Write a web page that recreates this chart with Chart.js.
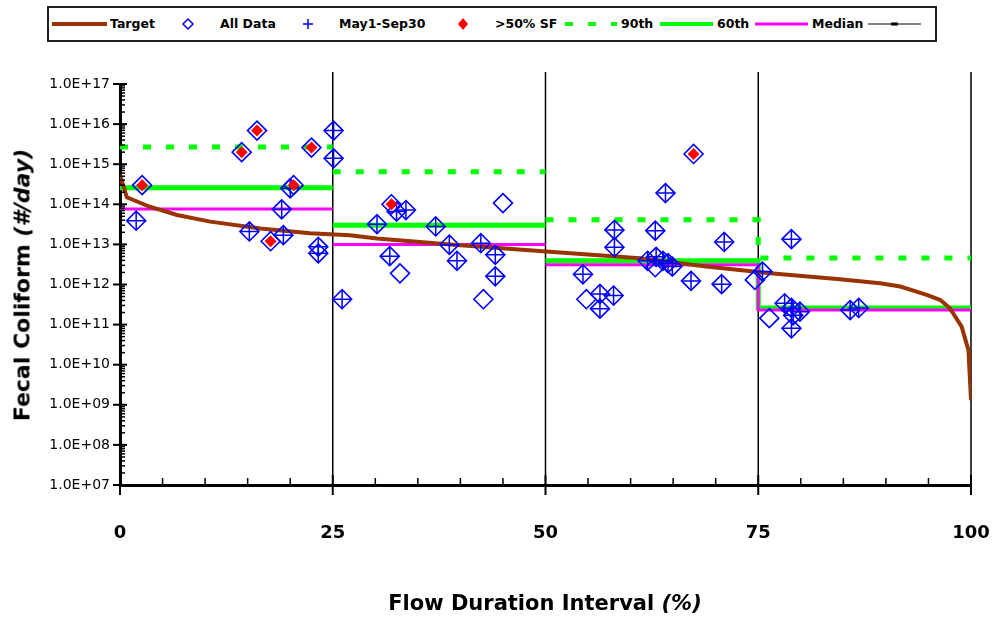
<!DOCTYPE html>
<html>
<head>
<meta charset="utf-8">
<script src="https://cdn.jsdelivr.net/npm/chart.js@4/dist/chart.umd.min.js"></script>
<style>
html,body{margin:0;padding:0;background:#fff}
#wrap{position:relative;width:995px;height:617px;font-family:"DejaVu Sans",sans-serif;color:#000}
#c{position:absolute;left:0;top:0}
#lgsvg{position:absolute;left:0;top:0}
.lt{position:absolute;top:16px;line-height:16px;font-size:12.5px;font-weight:bold;white-space:nowrap}
.ytitle{position:absolute;left:22px;top:285px;transform:translate(-50%,-50%) rotate(-90deg);white-space:nowrap;font-size:22px;font-weight:bold}
.xtitle{position:absolute;left:545px;top:603px;transform:translate(-50%,-50%);white-space:nowrap;font-size:21px;font-weight:bold}
</style>
</head>
<body>
<div id="wrap">
  <canvas id="c" width="995" height="617"></canvas>
  <svg id="lgsvg" width="995" height="48">
    <rect x="48" y="7" width="888" height="34" fill="#fff" stroke="#222" stroke-width="2"/>
    <line x1="52" x2="107" y1="24" y2="24" stroke="#993300" stroke-width="4"/>
    <path d="M188 19 L193 24 L188 29 L183 24 Z" fill="none" stroke="#0000ff" stroke-width="1.5"/>
    <path d="M308 19 V29 M303 24 H313" stroke="#0000ff" stroke-width="1.5"/>
    <path d="M463 18 L468 24 L463 30 L458 24 Z" fill="#ff0000"/>
    <line x1="565" x2="617" y1="24" y2="24" stroke="#00ff00" stroke-width="4" stroke-dasharray="8 15"/>
    <line x1="660" x2="713" y1="24" y2="24" stroke="#00ff00" stroke-width="4"/>
    <line x1="755" x2="808" y1="24" y2="24" stroke="#ff00ff" stroke-width="3"/>
    <line x1="868" x2="921" y1="24" y2="24" stroke="#000" stroke-width="1"/>
    <line x1="891" x2="898" y1="24" y2="24" stroke="#000" stroke-width="3"/>
  </svg>
  <span class="lt" style="left:110px">Target</span>
  <span class="lt" style="left:220px">All Data</span>
  <span class="lt" style="left:339px">May1-Sep30</span>
  <span class="lt" style="left:495px">&gt;50% SF</span>
  <span class="lt" style="left:621px">90th</span>
  <span class="lt" style="left:717px">60th</span>
  <span class="lt" style="left:812px">Median</span>
  <div class="ytitle">Fecal Coliform <i>(#/day)</i></div>
  <div class="xtitle">Flow Duration Interval <i>(%)</i></div>
</div>
<script>
// load duration curve
const targetX=[0,0.8,3.5,6.7,10.6,16.5,22.3,27,30.2,39.2,50.5,61.1,68.9,76.4,84.6,89.3,91.7,94.8,96.4,97.5,98.9,99.7,100]
const targetY=[5.4e14,1.5e14,8.7e13,5.4e13,3.7e13,2.5e13,1.9e13,1.7e13,1.4e13,9.8e12,6.6e12,4.5e12,2.8e12,1.9e12,1.35e12,1.07e12,8.9e11,5.5e11,4.1e11,2.6e11,8.9e10,2.3e10,1.3e9]

// observed samples
const allX=[2.6,1.9,14.3,16.1,15.2,17.7,19.0,19.2,20.0,20.4,22.5,23.3,23.3,25.1,25.1,26.1,
  31.9,32.5,33.6,30.2,37.1,31.7,32.9,38.7,39.6,42.4,44.1,44.1,42.7,45.0,
  67.4,64.1,58.1,58.1,62.9,71.0,54.4,54.8,56.4,56.4,58.0,62.0,63.0,62.9,63.8,64.4,64.9,67.1,70.7,74.6,75.5,
  78.9,76.3,78.1,78.9,79.9,79.1,78.9,85.8,86.8]
const allY=[3.0e14,3.9e13,2.0e15,6.9e15,2.1e13,1.2e13,7.5e13,1.7e13,2.5e14,3.0e14,2.6e15,8.7e12,6.0e12,6.9e15,1.4e15,4.3e11,
  1.0e14,6.6e13,7.2e13,3.2e13,2.8e13,5.1e12,1.9e12,9.8e12,3.9e12,1.07e13,5.5e12,1.6e12,4.3e11,1.07e14,
  1.8e15,1.9e14,2.3e13,8.5e12,2.2e13,1.15e13,1.8e12,4.3e11,5.8e11,2.5e11,5.3e11,3.9e12,4.9e12,2.7e12,3.9e12,3.4e12,2.8e12,1.23e12,1.02e12,1.3e12,2.1e12,
  1.35e13,1.45e11,3.4e11,2.6e11,2.1e11,1.7e11,8.1e10,2.3e11,2.6e11]
const summerX=[1.9,15.2,19.0,19.2,20.0,23.3,23.3,25.1,25.1,26.1,
  32.5,33.6,30.2,37.1,31.7,38.7,39.6,42.4,44.1,44.1,
  64.1,58.1,58.1,62.9,71.0,54.4,56.4,56.4,58.0,62.0,63.0,63.8,64.4,64.9,67.1,70.7,75.5,
  78.9,78.1,78.9,79.9,79.1,78.9,85.8,86.8]
const summerY=[3.9e13,2.1e13,7.5e13,1.7e13,2.5e14,8.7e12,6.0e12,6.9e15,1.4e15,4.3e11,
  6.6e13,7.2e13,3.2e13,2.8e13,5.1e12,9.8e12,3.9e12,1.07e13,5.5e12,1.6e12,
  1.9e14,2.3e13,8.5e12,2.2e13,1.15e13,1.8e12,5.8e11,2.5e11,5.3e11,3.9e12,4.9e12,3.9e12,3.4e12,2.8e12,1.23e12,1.02e12,2.1e12,
  1.35e13,3.4e11,2.6e11,2.1e11,1.7e11,8.1e10,2.3e11,2.6e11]
const sfX=[2.6,14.3,16.1,17.7,20.4,22.5,31.9,67.4]
const sfY=[3.0e14,2.0e15,6.9e15,1.2e13,3.0e14,2.6e15,1.0e14,1.8e15]

// per flow zone statistics
const zoneEdges=[0,25,50,75,100]
const pct90=[2.7e15,6.5e14,4.1e13,4.6e12]
const pct60=[2.6e14,3.0e13,3.9e12,2.6e11]
const median=[7.6e13,1.0e13,3.1e12,2.3e11]
const dividerX=[25,50,75,100]

const xTicks=[0,25,50,75,100]
const yTickExp=[7,8,9,10,11,12,13,14,15,16,17]

const pts=(xs,ys)=>xs.map((x,i)=>({x,y:ys[i]}))
// zone lines: break at 25 and 50, stepped join at 75
function zoneLine(vals){
  const out=[]
  vals.forEach((v,i)=>{
    out.push({x:zoneEdges[i],y:v},{x:zoneEdges[i+1],y:v})
    if(i<2) out.push({x:zoneEdges[i+1],y:null})
  })
  return out
}
const dividers=[]
dividerX.forEach(x=>{dividers.push({x,y:1e7},{x,y:2e17},{x,y:null})})

const FONT='"DejaVu Sans", sans-serif'
const lineDs={type:'scatter',showLine:true,pointRadius:0,fill:false,tension:0,spanGaps:false}

const tickMarks={
  id:'tickMarks',
  afterDraw(chart){
    const {ctx,scales:{x,y},chartArea:a}=chart
    const seg=(x1,y1,x2,y2,w)=>{ctx.lineWidth=w;ctx.beginPath();ctx.moveTo(x1,y1);ctx.lineTo(x2,y2);ctx.stroke()}
    ctx.save()
    ctx.strokeStyle='#000'
    yTickExp.forEach(e=>{
      const py=y.getPixelForValue(Math.pow(10,e))
      seg(a.left-7,py,a.left+7,py,2)
      if(e<17) for(let m=2;m<=9;m++){
        const p=y.getPixelForValue(m*Math.pow(10,e))
        seg(a.left,p,a.left+5,p,1.5)
      }
    })
    for(let v=0;v<=100;v+=5){
      const px=x.getPixelForValue(v)
      if(v%25===0) seg(px,a.bottom-10,px,a.bottom+10,2)
      else seg(px,a.bottom-7,px,a.bottom,1.5)
    }
    ctx.restore()
  }
}

new Chart(document.getElementById('c'),{
  type:'scatter',
  data:{datasets:[
    {label:'>50% SF',data:pts(sfX,sfY),pointStyle:'rectRot',pointRadius:6,pointBackgroundColor:'#ff0000',pointBorderColor:'#ff0000',pointBorderWidth:0,order:0},
    {label:'May1-Sep30',data:pts(summerX,summerY),pointStyle:'cross',pointRadius:9,pointBorderColor:'#0000ff',pointBorderWidth:1.5,order:1},
    {label:'All Data',data:pts(allX,allY),pointStyle:'rectRot',pointRadius:9.5,pointBackgroundColor:'transparent',pointBorderColor:'#0000ff',pointBorderWidth:1.6,order:2},
    {...lineDs,label:'Target',data:pts(targetX,targetY),borderColor:'#993300',borderWidth:4,order:3},
    {...lineDs,label:'Median',data:zoneLine(median),borderColor:'#ff00ff',borderWidth:3,order:4},
    {...lineDs,label:'60th',data:zoneLine(pct60),borderColor:'#00ff00',borderWidth:5,order:5},
    {...lineDs,label:'90th',data:zoneLine(pct90),borderColor:'#00ff00',borderWidth:5,borderDash:[8,15],borderCapStyle:'butt',order:6},
    {...lineDs,label:'',data:dividers,borderColor:'#000',borderWidth:1.5,clip:false,order:7}
  ]},
  options:{
    responsive:false,animation:false,events:[],
    layout:{padding:{left:0,top:84,right:24,bottom:0}},
    plugins:{legend:{display:false},tooltip:{enabled:false}},
    scales:{
      x:{type:'linear',min:0,max:100,
        afterBuildTicks:s=>{s.ticks=xTicks.map(v=>({value:v}))},
        afterFit:s=>{s.height=132;s.paddingLeft=0;s.paddingRight=0},
        grid:{display:false,drawTicks:false},
        border:{display:true,color:'#000',width:3},
        ticks:{padding:38,color:'#000',maxRotation:0,font:{family:FONT,size:18,weight:'bold'}}},
      y:{type:'logarithmic',min:1e7,max:1e17,
        afterBuildTicks:s=>{s.ticks=yTickExp.map(e=>({value:Math.pow(10,e)}))},
        afterFit:s=>{s.width=120;s.paddingTop=0;s.paddingBottom=0},
        grid:{display:false,drawTicks:false},
        border:{display:true,color:'#000',width:3},
        ticks:{padding:10,color:'#000',font:{family:FONT,size:14},
          callback:v=>'1.0E+'+String(Math.round(Math.log10(v))).padStart(2,'0')}}
    }
  },
  plugins:[tickMarks]
})
</script>
</body>
</html>
